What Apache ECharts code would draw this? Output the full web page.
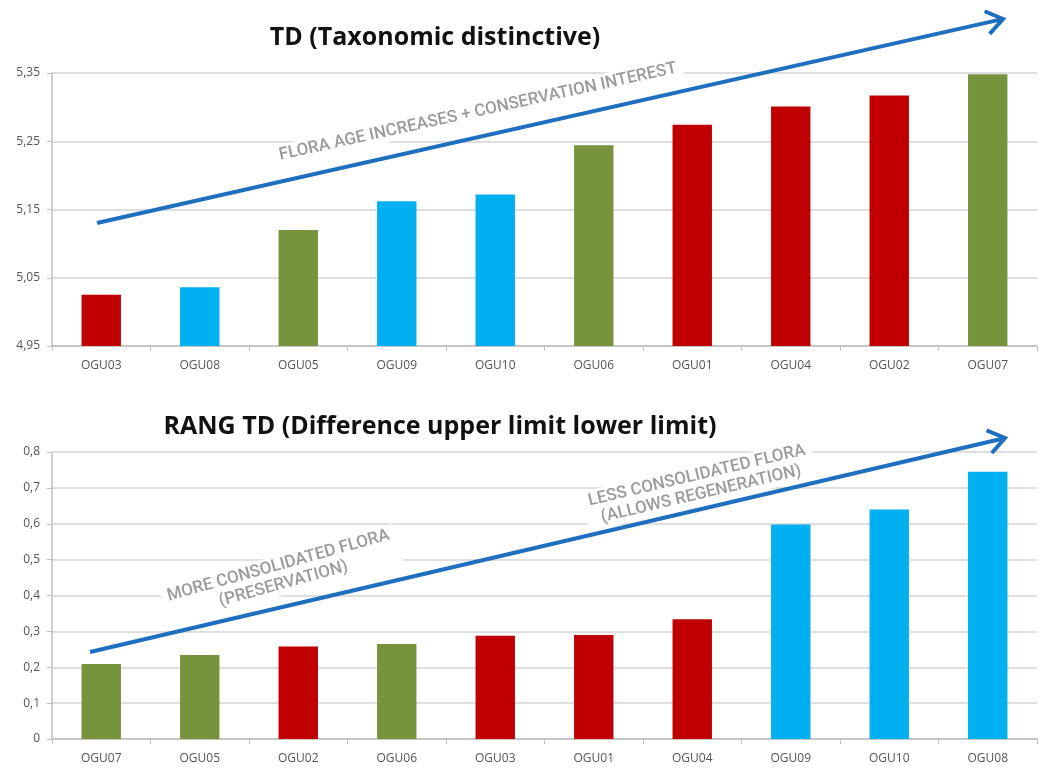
<!DOCTYPE html>
<html>
<head>
<meta charset="utf-8">
<title>TD / RANG TD</title>
<script src="https://cdn.jsdelivr.net/npm/echarts@6/dist/echarts.min.js"></script>
<style>
  html, body { margin: 0; padding: 0; background: #fff; }
  #main { width: 1040px; height: 769px; }
</style>
</head>
<body>
<div id="main"></div>
<script>
// ---- data ----
var tdCategories = ['OGU03', 'OGU08', 'OGU05', 'OGU09', 'OGU10', 'OGU06', 'OGU01', 'OGU04', 'OGU02', 'OGU07'];
var tdValues = [5.025, 5.036, 5.12, 5.162, 5.172, 5.244, 5.274, 5.301, 5.317, 5.348];
var tdTicks = ['4,95', '5,05', '5,15', '5,25', '5,35'];
var tdBase = 4.95;

var rangCategories = ['OGU07', 'OGU05', 'OGU02', 'OGU06', 'OGU03', 'OGU01', 'OGU04', 'OGU09', 'OGU10', 'OGU08'];
var rangValues = [0.209, 0.234, 0.258, 0.265, 0.288, 0.290, 0.334, 0.598, 0.640, 0.745];
var rangTicks = ['0', '0,1', '0,2', '0,3', '0,4', '0,5', '0,6', '0,7', '0,8'];

// which group each OGU belongs to (same grouping in both charts)
var oguGroup = {
  OGU01: 1, OGU02: 1, OGU03: 1, OGU04: 1,
  OGU08: 2, OGU09: 2, OGU10: 2,
  OGU05: 3, OGU06: 3, OGU07: 3
};

var groupColors = { 1: '#c00000', 2: '#00b0f0', 3: '#77933c' };
var arrowColor = '#1f6fc0';
var noteColor = '#9b9b9b';
var labelColor = '#555';
var gridColor = '#d4d4d4';

function barData(cats, vals, base) {
  return vals.map(function(v, i) {
    return {
      value: +(v - base).toFixed(4),
      itemStyle: { color: groupColors[oguGroup[cats[i]]] }
    };
  });
}

function arrow(x1, y1, x2, y2) {
  var a = Math.atan2(y2 - y1, x2 - x1);
  var L = 20, s = 0.62;
  return [
    {
      type: 'line', z: 10,
      shape: { x1: x1, y1: y1, x2: x2 - 3 * Math.cos(a), y2: y2 - 3 * Math.sin(a) },
      style: { stroke: arrowColor, lineWidth: 4 }
    },
    {
      type: 'polyline', z: 10,
      shape: { points: [
        [x2 - L * Math.cos(a - s), y2 - L * Math.sin(a - s)],
        [x2, y2],
        [x2 - L * Math.cos(a + s), y2 - L * Math.sin(a + s)]
      ] },
      style: { stroke: arrowColor, lineWidth: 4, fill: null, lineJoin: 'miter' }
    }
  ];
}

function note(text, x, y, deg, size) {
  return {
    type: 'text', z: 5, x: x, y: y, rotation: deg * Math.PI / 180,
    style: {
      text: text, fill: noteColor, align: 'center', verticalAlign: 'middle',
      font: '500 ' + size + 'px Roboto', lineHeight: size + 2,
      backgroundColor: '#fff', padding: [1, 6]
    }
  };
}

function heading(text, x, y) {
  return {
    type: 'text', z: 5, x: x, y: y,
    style: {
      text: text, fill: '#111', align: 'center', verticalAlign: 'middle',
      font: 'bold 25px "Open Sans"'
    }
  };
}

var xAxisCommon = {
  type: 'category',
  axisLine: { lineStyle: { color: '#bfbfbf', width: 1.5 } },
  axisTick: { show: true, length: 5, lineStyle: { color: '#bfbfbf' } },
  axisLabel: { color: labelColor, fontSize: 12, margin: 14, fontFamily: 'Open Sans' }
};

var yAxisCommon = {
  type: 'value',
  min: 0,
  interval: 0.1,
  axisLine: { show: true, lineStyle: { color: '#bfbfbf', width: 1.5 } },
  axisTick: { show: true, length: 5, lineStyle: { color: '#bfbfbf' } },
  splitLine: { lineStyle: { color: gridColor, width: 1.5 } },
  axisLabel: { color: labelColor, fontSize: 12, margin: 12, fontFamily: 'Open Sans' }
};

var option = {
  backgroundColor: '#fff',
  animation: false,
  grid: [
    { left: 52, right: 3, top: 73, height: 273 },
    { left: 52, right: 3, top: 452, height: 287 }
  ],
  xAxis: [
    Object.assign({}, xAxisCommon, { gridIndex: 0, data: tdCategories }),
    Object.assign({}, xAxisCommon, { gridIndex: 1, data: rangCategories })
  ],
  yAxis: [
    Object.assign({}, yAxisCommon, {
      gridIndex: 0, max: 0.4,
      axisLabel: Object.assign({}, yAxisCommon.axisLabel, {
        formatter: function(v) { return tdTicks[Math.round(v * 10)]; }
      })
    }),
    Object.assign({}, yAxisCommon, {
      gridIndex: 1, max: 0.8,
      axisLabel: Object.assign({}, yAxisCommon.axisLabel, {
        formatter: function(v) { return rangTicks[Math.round(v * 10)]; }
      })
    })
  ],
  series: [
    {
      name: 'TD', type: 'bar', xAxisIndex: 0, yAxisIndex: 0,
      barWidth: '40%', data: barData(tdCategories, tdValues, tdBase)
    },
    {
      name: 'RANG TD', type: 'bar', xAxisIndex: 1, yAxisIndex: 1,
      barWidth: '40%', data: barData(rangCategories, rangValues, 0)
    }
  ],
  graphic: [].concat(
    heading('TD (Taxonomic distinctive)', 435, 38),
    heading('RANG TD (Difference upper limit lower limit)', 440, 427),
    note('FLORA AGE INCREASES + CONSERVATION INTEREST', 478, 112, 12.4, 17),
    note('MORE CONSOLIDATED FLORA\n(PRESERVATION)', 281, 575, 15.5, 17),
    note('LESS CONSOLIDATED FLORA\n(ALLOWS REGENERATION)', 699, 485, 13.3, 17),
    arrow(97, 223, 1003, 19),
    arrow(90, 652, 1005, 438)
  )
};

var chart = echarts.init(document.getElementById('main'));
chart.setOption(option);
</script>
</body>
</html>
